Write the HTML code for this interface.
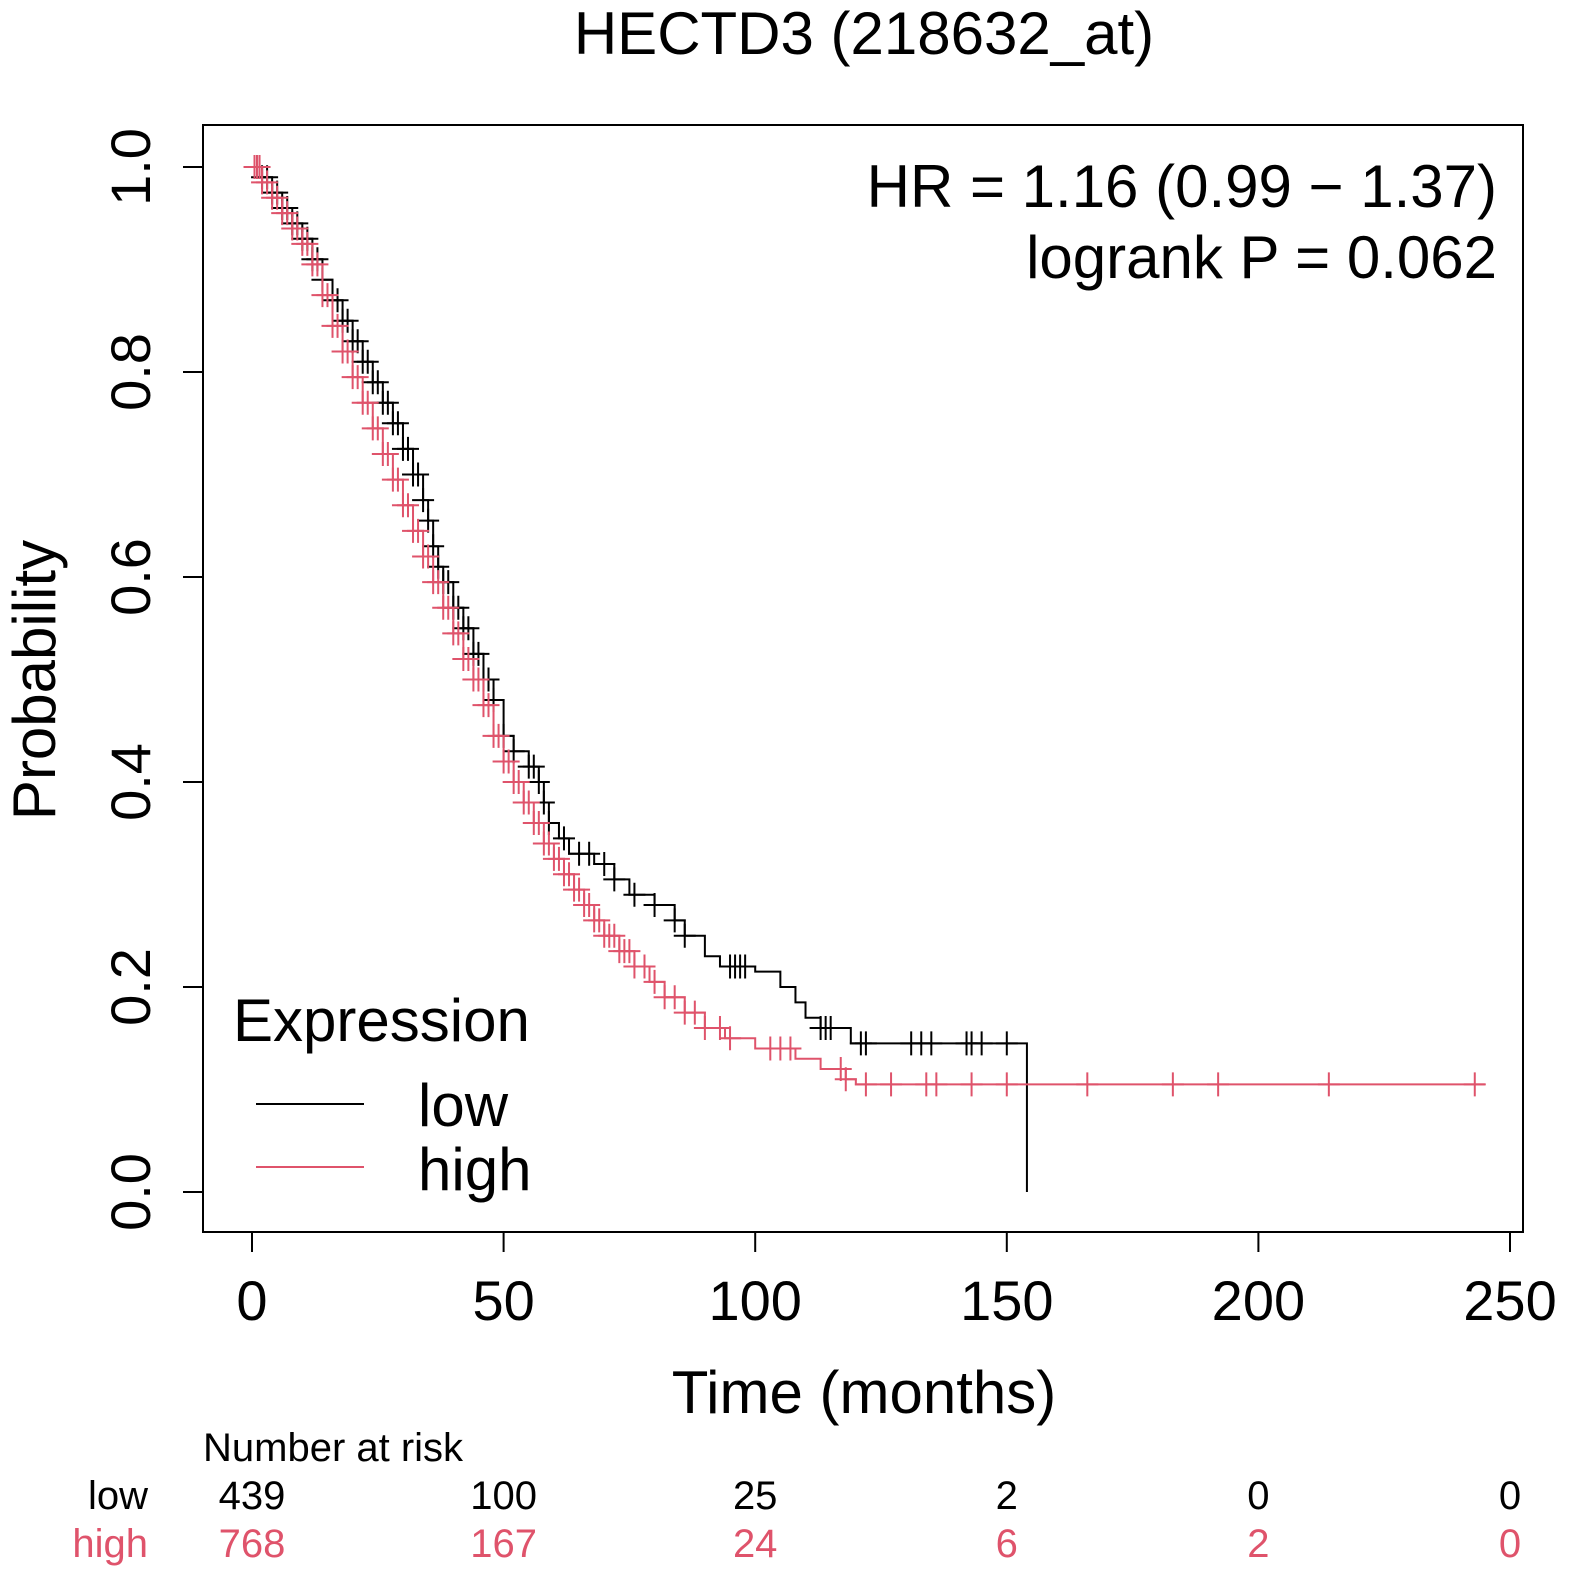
<!DOCTYPE html>
<html><head><meta charset="utf-8"><style>
html,body{margin:0;padding:0;background:#fff;}
svg{display:block;font-family:"Liberation Sans",Arial,sans-serif;}
</style></head><body>
<svg id="chart" width="1575" height="1582" viewBox="0 0 1575 1582" xmlns="http://www.w3.org/2000/svg">
<text x="864" y="54" font-size="60" text-anchor="middle">HECTD3 (218632_at)</text>
<rect x="203" y="125" width="1320" height="1107" fill="none" stroke="#000" stroke-width="2"/>
<g id="axes"></g>
<g id="series"></g>
<text x="1497" y="207" font-size="60" text-anchor="end">HR = 1.16 (0.99 − 1.37)</text>
<text x="1497" y="278" font-size="60" text-anchor="end">logrank P = 0.062</text>
<g>
<text x="233" y="1041" font-size="60">Expression</text>
<line x1="256" y1="1104" x2="364" y2="1104" stroke="#000" stroke-width="2"/>
<text x="418" y="1126" font-size="60">low</text>
<line x1="256" y1="1167" x2="364" y2="1167" stroke="#DF536B" stroke-width="2"/>
<text x="418" y="1190" font-size="60">high</text>
</g>
<text transform="translate(55,680) rotate(-90)" font-size="60" text-anchor="middle">Probability</text>
<text x="864" y="1413" font-size="60" text-anchor="middle">Time (months)</text>
<text x="203" y="1461" font-size="40">Number at risk</text>
<text x="148" y="1509" font-size="40" text-anchor="end">low</text>
<text x="148" y="1557" font-size="40" text-anchor="end" fill="#DF536B">high</text>
<g id="risk"></g>
</svg>
<script>
const xTicks=[0,50,100,150,200,250];
const yTicks=[0,0.2,0.4,0.6,0.8,1.0];
const yTickLabels=["0.0","0.2","0.4","0.6","0.8","1.0"];
const riskLow=[439,100,25,2,0,0];
const riskHigh=[768,167,24,6,2,0];
const lowTimes=[0,2,4,6,8,10,12,14,16,18,20,22,24,26,28,30,32,34,35,36,37,38,40,42,44,46,48,50,52,55,57,58,59,61,63,68,72,75,80,84,86,90,93,100,105,108,110,113,119,154];
const lowSurv=[1,0.99,0.975,0.96,0.945,0.93,0.91,0.89,0.87,0.85,0.83,0.81,0.79,0.77,0.75,0.725,0.70,0.675,0.655,0.63,0.61,0.595,0.57,0.55,0.525,0.50,0.48,0.445,0.43,0.415,0.40,0.38,0.36,0.345,0.33,0.32,0.305,0.29,0.28,0.265,0.25,0.23,0.22,0.215,0.20,0.185,0.17,0.16,0.145,0];
const highTimes=[0,2,4,6,8,10,12,14,16,18,20,22,24,26,28,30,32,34,36,38,40,42,44,46,48,50,52,54,56,58,60,62,64,66,68,70,73,76,79,82,86,90,94,100,108,113,118,120];
const highSurv=[1,0.985,0.97,0.955,0.94,0.925,0.905,0.875,0.845,0.82,0.795,0.77,0.745,0.72,0.695,0.67,0.645,0.62,0.595,0.57,0.545,0.52,0.50,0.475,0.445,0.42,0.40,0.38,0.36,0.34,0.325,0.31,0.295,0.28,0.265,0.25,0.235,0.22,0.205,0.19,0.175,0.16,0.15,0.14,0.13,0.12,0.11,0.105];
const highEnd=245;
const lowCensor=[1,2,3,4,5,6,7,8,9,10,11,12,13,14,16,17,18,19,20,21,22,23,24,25,26,27,28,29,30,31,32,33,34,35,36,37,38,39,40,41,42,43,44,45,46,47,48,50,52,55,56,57,58,59,62,65,67,70,72,76,80,84,86,95,96,97,98,113,114,115,121,122,131,133,135,142,143,145,150];
const highCensor=[0.5,1,1.5,2,3,4,5,6,7,8,9,10,11,12,13,14,15,16,17,18,19,20,21,22,23,24,25,26,27,28,29,30,31,32,33,34,35,36,37,38,39,40,41,42,43,44,45,46,47,48,49,50,51,52,53,54,55,56,57,58,59,60,61,62,63,64,65,66,67,68,69,70,71,72,73,74,75,76,78,80,82,84,86,88,90,93,95,103,105,107,117,118,122,127,134,136,143,150,166,183,192,214,243];
const NS="http://www.w3.org/2000/svg";
const X=t=>252+t*5.032;
const Y=p=>1192-p*1025;
function mk(tag,attrs,parent){const e=document.createElementNS(NS,tag);for(const k in attrs)e.setAttribute(k,attrs[k]);parent.appendChild(e);return e;}
const axes=document.getElementById('axes');
mk('line',{x1:X(0),y1:1232,x2:X(250),y2:1232,stroke:'#000','stroke-width':2},axes);
xTicks.forEach((t,i)=>{
 const l=mk('line',{x1:X(t),y1:1232,x2:X(t),y2:1252,stroke:'#000','stroke-width':2},axes);
 
 
 const tx=mk('text',{x:X(t),y:1320,'font-size':56,'text-anchor':'middle'},axes);tx.textContent=t;
 
 
});
mk('line',{x1:203,y1:Y(0),x2:203,y2:Y(1),stroke:'#000','stroke-width':2},axes);
yTicks.forEach((p,i)=>{
 const l=mk('line',{x1:183,y1:Y(p),x2:203,y2:Y(p),stroke:'#000','stroke-width':2},axes);
 
 
 const tx=mk('text',{transform:`translate(150,${Y(p)}) rotate(-90)`,'font-size':56,'text-anchor':'middle'},axes);tx.textContent=yTickLabels[i];
 
 
});
function survAt(times,surv,t){let s=surv[0];for(let i=0;i<times.length;i++){if(times[i]<=t)s=surv[i];}return s;}
function drawCurve(times,surv,end,color,name,cens){
 const g=document.getElementById('series');
 let d=`M${X(times[0])},${Y(surv[0])}`;
 for(let i=1;i<times.length;i++){d+=`H${X(times[i])}V${Y(surv[i])}`;}
 if(end!==null)d+=`H${X(end)}`;
 const p=mk('path',{d:d,fill:'none',stroke:color,'stroke-width':2},g);
 
 
 cens.forEach(t=>{
  const s=survAt(times,surv,t);const cx=X(t),cy=Y(s);
  const c=mk('path',{d:`M${cx-11},${cy}H${cx+11}M${cx},${cy-12}V${cy+12}`,stroke:color,'stroke-width':2},g);
  
  
 });
}
drawCurve(lowTimes,lowSurv,null,'#000','low',lowCensor);
drawCurve(highTimes,highSurv,highEnd,'#DF536B','high',highCensor);
const risk=document.getElementById('risk');
xTicks.forEach((t,i)=>{
 const a=mk('text',{x:X(t),y:1509,'font-size':40,'text-anchor':'middle'},risk);a.textContent=riskLow[i];
 
 
 const b=mk('text',{x:X(t),y:1557,'font-size':40,'text-anchor':'middle',fill:'#DF536B'},risk);b.textContent=riskHigh[i];
 
 
});
</script>
</body></html>
